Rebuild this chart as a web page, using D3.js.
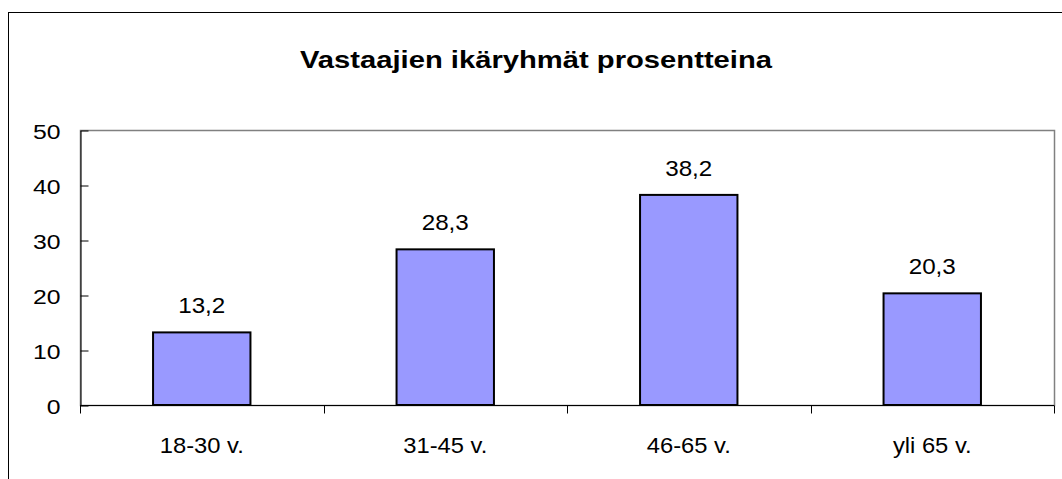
<!DOCTYPE html>
<html>
<head>
<meta charset="utf-8">
<script src="https://cdn.jsdelivr.net/npm/d3@7"></script>
<style>
    html, body { margin: 0; padding: 0; background: #fff; }
    svg { display: block; font-family: "Liberation Sans", Arial, sans-serif; }
    .axis path, .axis line { stroke: #000; }
    .axis text { font-size: 21px; fill: #000; }
</style>
</head>
<body>
<svg id="chart" width="1062" height="479"></svg>
<script>
const categories = ['18-30 v.', '31-45 v.', '46-65 v.', 'yli 65 v.'];
const values = [13.2, 28.3, 38.2, 20.3];
const yTicks = [0, 10, 20, 30, 40, 50];
const title = 'Vastaajien ikäryhmät prosentteina';

const width = 1062;
const height = 479;
const margin = { top: 130, right: 8, bottom: 74, left: 80 };

const formatValue = v => v.toFixed(1).replace('.', ',');

// the original text is drawn a bit wider than the font's normal advance
const stretch = (px, py, s) => `translate(${px},${py}) scale(${s},1)`;

const svg = d3.select('#chart');

// outer chart frame (runs off the right and bottom edges)
svg.append('rect')
    .attr('x', 8.5)
    .attr('y', 12.5)
    .attr('width', 1200)
    .attr('height', 600)
    .attr('fill', 'none')
    .attr('stroke', '#000');

const x = d3.scaleBand()
    .domain(categories)
    .range([margin.left, width - margin.right])
    .paddingInner(0.6)
    .paddingOuter(0.3);

const y = d3.scaleLinear()
    .domain([0, 50])
    .range([height - margin.bottom, margin.top]);

// plot area border
svg.append('rect')
    .attr('x', margin.left + 0.5)
    .attr('y', y(50) + 0.5)
    .attr('width', width - margin.right - margin.left)
    .attr('height', y(0) - y(50))
    .attr('fill', 'none')
    .attr('stroke', '#808080')
    .attr('stroke-width', 1.5);

svg.append('text')
    .attr('transform', stretch(536, 68, 1.27))
    .attr('text-anchor', 'middle')
    .style('font-size', '23px')
    .style('font-weight', 'bold')
    .text(title);

// y axis with inward ticks
svg.append('g')
    .classed('axis', true)
    .attr('transform', `translate(${margin.left + 0.5},0.5)`)
    .call(d3.axisRight(y).tickValues(yTicks).tickSize(8).tickSizeOuter(0).tickFormat(d3.format('d')))
    .call(g => g.selectAll('text')
        .attr('x', 0)
        .attr('transform', stretch(-20, 0, 1.18))
        .attr('text-anchor', 'end')
        .attr('dy', '0.38em'))
    .call(g => g.select('.domain').attr('stroke', '#333'));

// x axis: ticks at category boundaries
const boundaries = d3.range(categories.length + 1)
    .map(i => margin.left + i * (width - margin.right - margin.left) / categories.length);
const xAxisG = svg.append('g')
    .classed('axis', true)
    .attr('transform', `translate(0,${y(0) + 0.5})`);
xAxisG.append('line')
    .attr('x1', margin.left)
    .attr('x2', width - margin.right)
    .attr('stroke', '#333');
xAxisG.selectAll('line.tick')
    .data(boundaries)
    .join('line')
    .classed('tick', true)
    .attr('x1', d => Math.round(d) + 0.5)
    .attr('x2', d => Math.round(d) + 0.5)
    .attr('y1', 0)
    .attr('y2', 8);
xAxisG.selectAll('text')
    .data(categories)
    .join('text')
    .attr('transform', d => stretch(x(d) + x.bandwidth() / 2, 47, 1.08))
    .attr('text-anchor', 'middle')
    .style('font-size', '22px')
    .text(d => d);

const data = categories.map((c, i) => ({ category: c, value: values[i] }));

svg.append('g')
    .selectAll('rect')
    .data(data)
    .join('rect')
    .attr('x', d => x(d.category))
    .attr('y', d => y(d.value))
    .attr('width', x.bandwidth())
    .attr('height', d => y(0) - y(d.value))
    .attr('fill', '#9999ff')
    .attr('stroke', '#000')
    .attr('stroke-width', 2);

svg.append('g')
    .selectAll('text')
    .data(data)
    .join('text')
    .attr('transform', d => stretch(x(d.category) + x.bandwidth() / 2, y(d.value) - 19, 1.1))
    .attr('text-anchor', 'middle')
    .style('font-size', '22px')
    .text(d => formatValue(d.value));
</script>
</body>
</html>
